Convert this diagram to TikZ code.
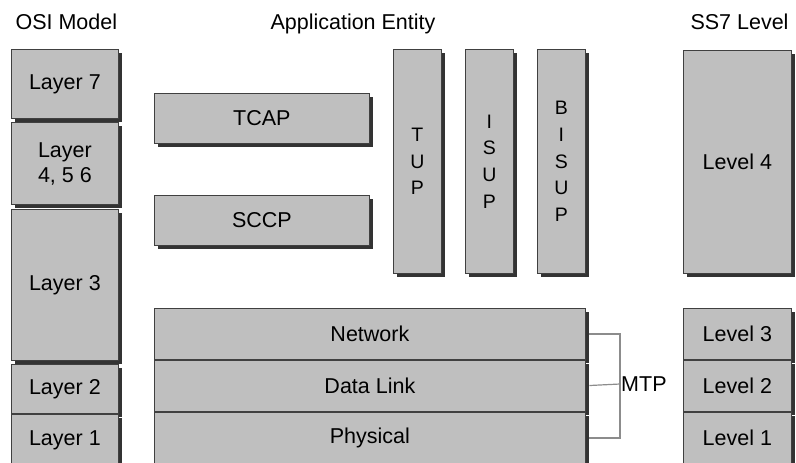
\documentclass[tikz,border=0pt]{standalone}
\usepackage{fontspec}
\setmainfont{Liberation Sans}
\usetikzlibrary{positioning,shadows}

\begin{document}
\begin{tikzpicture}[x=1pt, y=-1pt, every node/.style={font=\fontsize{21.5}{25}\selectfont},
    box/.style={rectangle, draw=black!75, fill=black!25, line width=0.8pt, anchor=north west, inner sep=0pt,
      drop shadow={shadow xshift=3.5pt, shadow yshift=-3.5pt, fill=black!80, opacity=1}},
    layer/.style={box, minimum width=107, align=center},
    level/.style={box, minimum width=108},
    upart/.style={box, minimum width=48, minimum height=224, align=center, font=\fontsize{19.5}{26.7}\selectfont},
    mtpbox/.style={box, minimum width=431},
    title/.style={anchor=base west},
    bracket/.style={draw=black!45, line width=1.2pt, shorten <=3.5pt, shorten >=3.5pt}]
    \useasboundingbox (0,0) rectangle (796,463);
    \node[title] (osititle) at (12,30) {OSI Model};
    \node[title] (apptitle) at (267,30) {Application Entity};
    \node[title] (ss7title) at (687,30) {SS7 Level};
    \node[layer, minimum height=69] (layer7) at (11,49) {Layer 7};
    \node[layer, minimum height=82, below=3.5pt of layer7] (layer456) {Layer\\4, 5 6};
    \node[layer, minimum height=151.5, below=3.5pt of layer456] (layer3) {Layer 3};
    \node[layer, minimum height=48.5, below=3.5pt of layer3] (layer2) {Layer 2};
    \node[layer, minimum height=52, below=0pt of layer2] (layer1) {Layer 1};
    \node[box, minimum width=215, minimum height=50] (tcap) at (154,93) {TCAP};
    \node[box, minimum width=215, minimum height=50] (sccp) at (154,195) {SCCP};
    \node[upart] (tup) at (393,49) {T\\U\\P};
    \node[upart] (isup) at (465,49) {I\\S\\U\\P};
    \node[upart] (bisup) at (537,49) {B\\I\\S\\U\\P};
    \node[mtpbox, minimum height=51] (net) at (154,308) {Network};
    \node[mtpbox, minimum height=51, below=0pt of net] (link) {Data Link};
    \node[mtpbox, minimum height=52, below=0pt of link] (phys) {Physical};
    \node[level, minimum height=223] (level4) at (683,50) {Level 4};
    \node[level, minimum height=51] (level3) at (683,308) {Level 3};
    \node[level, minimum height=51, below=0pt of level3] (level2) {Level 2};
    \node[level, minimum height=52, below=0pt of level2] (level1) {Level 1};
    \node[anchor=west, inner sep=1pt] (mtp) at (620,384) {MTP};
    \draw[bracket] (net.east) -| (mtp.west) |- (phys.east);
    \draw[bracket, shorten >=0pt] (link.east) -- (mtp.west);
\end{tikzpicture}
\end{document}
